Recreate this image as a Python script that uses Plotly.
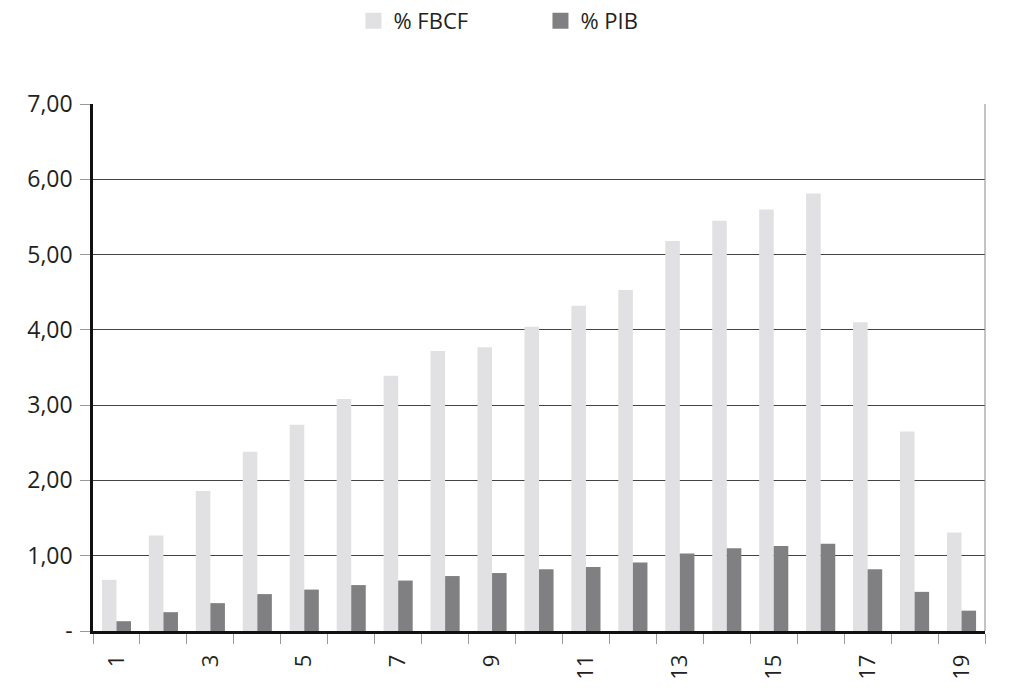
import plotly.graph_objects as go

categories = [str(i) for i in range(1, 20)]
fbcf = [0.68, 1.27, 1.86, 2.38, 2.74, 3.08, 3.39, 3.72, 3.77, 4.04,
        4.32, 4.53, 5.18, 5.45, 5.60, 5.81, 4.10, 2.65, 1.31]
pib = [0.13, 0.25, 0.37, 0.49, 0.55, 0.61, 0.67, 0.73, 0.77, 0.82,
       0.85, 0.91, 1.03, 1.10, 1.13, 1.16, 0.82, 0.52, 0.27]
x_ticktext = [c if int(c) % 2 == 1 else "" for c in categories]
y_tickvals = [0, 1, 2, 3, 4, 5, 6, 7]
y_ticktext = ["-", "1,00", "2,00", "3,00", "4,00", "5,00", "6,00", "7,00"]

C_FBCF = "#e1e1e3"
C_PIB = "#808083"
FONT = "Open Sans"

fig = go.Figure()
fig.add_trace(go.Bar(x=categories, y=fbcf, name="% FBCF", marker_color=C_FBCF,
                     marker_line_width=0, showlegend=False))
fig.add_trace(go.Bar(x=categories, y=pib, name="% PIB", marker_color=C_PIB,
                     marker_line_width=0, showlegend=False))
# legend-only entries with larger square symbols
fig.add_trace(go.Scatter(x=[None], y=[None], mode="markers", name="% FBCF",
                         marker=dict(symbol="square", size=19, color=C_FBCF)))
fig.add_trace(go.Scatter(x=[None], y=[None], mode="markers", name="% PIB",
                         marker=dict(symbol="square", size=19, color=C_PIB)))

fig.update_layout(
    width=1024, height=694,
    margin=dict(l=93, r=39, t=104, b=63),
    paper_bgcolor="white", plot_bgcolor="white",
    barmode="group", bargap=0.38, bargroupgap=0,
    font=dict(family=FONT, color="#231f20"),
    legend=dict(orientation="h", x=0.292, xanchor="left", y=1.0, yref="container",
                yanchor="top", font=dict(size=22, family=FONT),
                entrywidth=142, entrywidthmode="pixels", itemsizing="trace",
                bgcolor="rgba(0,0,0,0)"),
    showlegend=True,
)
fig.update_xaxes(
    type="category", categoryorder="array", categoryarray=categories,
    tickmode="array", tickvals=categories, ticktext=x_ticktext,
    tickson="boundaries", ticks="outside", ticklen=10, tickcolor="#9a9a9a",
    tickwidth=1, tickangle=-90, tickfont=dict(size=22, family=FONT, color="#231f20"),
    showline=True, linecolor="#111111", linewidth=2.5, showgrid=False,
    ticklabelstandoff=12,
)
fig.update_yaxes(
    range=[0, 7], tickmode="array", tickvals=y_tickvals, ticktext=y_ticktext,
    ticks="outside", ticklen=10, tickcolor="#9a9a9a", tickwidth=1,
    tickfont=dict(size=23, family=FONT, color="#231f20"),
    showline=True, linecolor="#111111", linewidth=2.5,
    showgrid=True, gridcolor="#444444", gridwidth=1, zeroline=False,
    ticklabelstandoff=3,
)
fig.add_shape(type="line", xref="paper", yref="paper", x0=1, x1=1, y0=0, y1=1,
              line=dict(color="#888888", width=1))

fig.write_html("out.html")
